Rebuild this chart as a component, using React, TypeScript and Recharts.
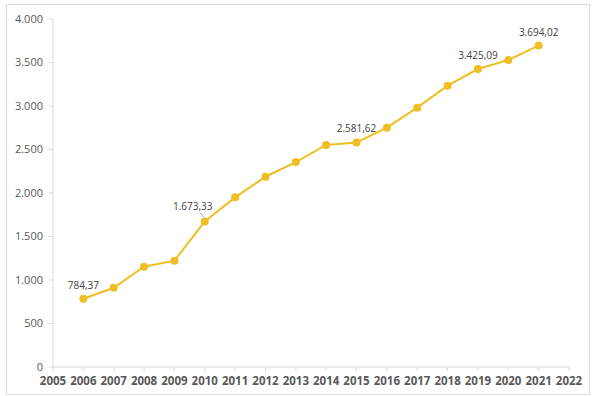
import React from 'react';
import { LineChart, Line, XAxis, YAxis, LabelList } from 'recharts';

const years = [2006, 2007, 2008, 2009, 2010, 2011, 2012, 2013, 2014, 2015, 2016, 2017, 2018, 2019, 2020, 2021];
const values = [784.37, 911, 1153, 1222, 1673.33, 1950, 2187, 2356, 2552, 2581.62, 2751, 2981, 3234, 3425.09, 3529, 3694.02];
const labeledYears = [2006, 2010, 2015, 2019, 2021];
const xTicks = [2005, 2006, 2007, 2008, 2009, 2010, 2011, 2012, 2013, 2014, 2015, 2016, 2017, 2018, 2019, 2020, 2021, 2022];
const yTicks = [0, 500, 1000, 1500, 2000, 2500, 3000, 3500, 4000];

const data = years.map((year, i) => ({ year, value: values[i] }));

const LINE = '#F0BE22';
const FONT = '"Open Sans", sans-serif';

// thousands with "." and decimals with ","
const fmt = (v: number, decimals = 0) => {
    const [int, dec] = v.toFixed(decimals).split('.');
    const withDots = int.replace(/\B(?=(\d{3})+(?!\d))/g, '.');
    return dec ? `${withDots},${dec}` : withDots;
};

const PointLabel = (props: any) => {
    const { x, y, value, index } = props;
    if (!labeledYears.includes(years[index])) return null;
    const text = fmt(value, 2);
    if (years[index] === 2010) {
        return (
            <g>
                <line x1={x - 5} y1={y - 9} x2={x - 1} y2={y - 4} stroke="#a6a6a6" strokeWidth={1} />
                <text x={x - 12} y={y - 11} textAnchor="middle" fontSize={10} fontFamily={FONT} fill="#404040">
                    {text}
                </text>
            </g>
        );
    }
    return (
        <text x={x} y={y - 10} textAnchor="middle" fontSize={10} fontFamily={FONT} fill="#404040">
            {text}
        </text>
    );
};

const App: React.FC = () => {
    return (
        <div style={{ position: 'absolute', left: 0, top: 0, width: 600, height: 396, background: '#fff' }}>
            <div
                style={{
                    position: 'absolute',
                    left: 6,
                    top: 4,
                    width: 582,
                    height: 389,
                    border: '1px solid #dcdcdc',
                }}
            />
            <LineChart
                width={600}
                height={396}
                data={data}
                margin={{ top: 19, right: 31, bottom: 0, left: 0 }}
                style={{ position: 'absolute', left: 0, top: 0 }}
            >
                <XAxis
                    dataKey="year"
                    type="number"
                    domain={[2005, 2022]}
                    ticks={xTicks}
                    interval={0}
                    height={29}
                    stroke="#d9d9d9"
                    tickSize={4}
                    tickMargin={6}
                    tick={{ fill: '#595959', fontSize: 11.5, fontWeight: 700, fontFamily: FONT }}
                />
                <YAxis
                    domain={[0, 4000]}
                    ticks={yTicks}
                    width={53}
                    stroke="#d9d9d9"
                    tickSize={4}
                    tickMargin={6}
                    tickFormatter={(v: number) => fmt(v)}
                    tick={{ fill: '#595959', fontSize: 11, fontFamily: FONT }}
                />
                <Line
                    type="linear"
                    dataKey="value"
                    stroke={LINE}
                    strokeWidth={2}
                    dot={{ r: 4, fill: LINE, stroke: LINE, strokeWidth: 0 }}
                    isAnimationActive={false}
                >
                    <LabelList dataKey="value" content={PointLabel} />
                </Line>
            </LineChart>
        </div>
    );
};

export default App;
